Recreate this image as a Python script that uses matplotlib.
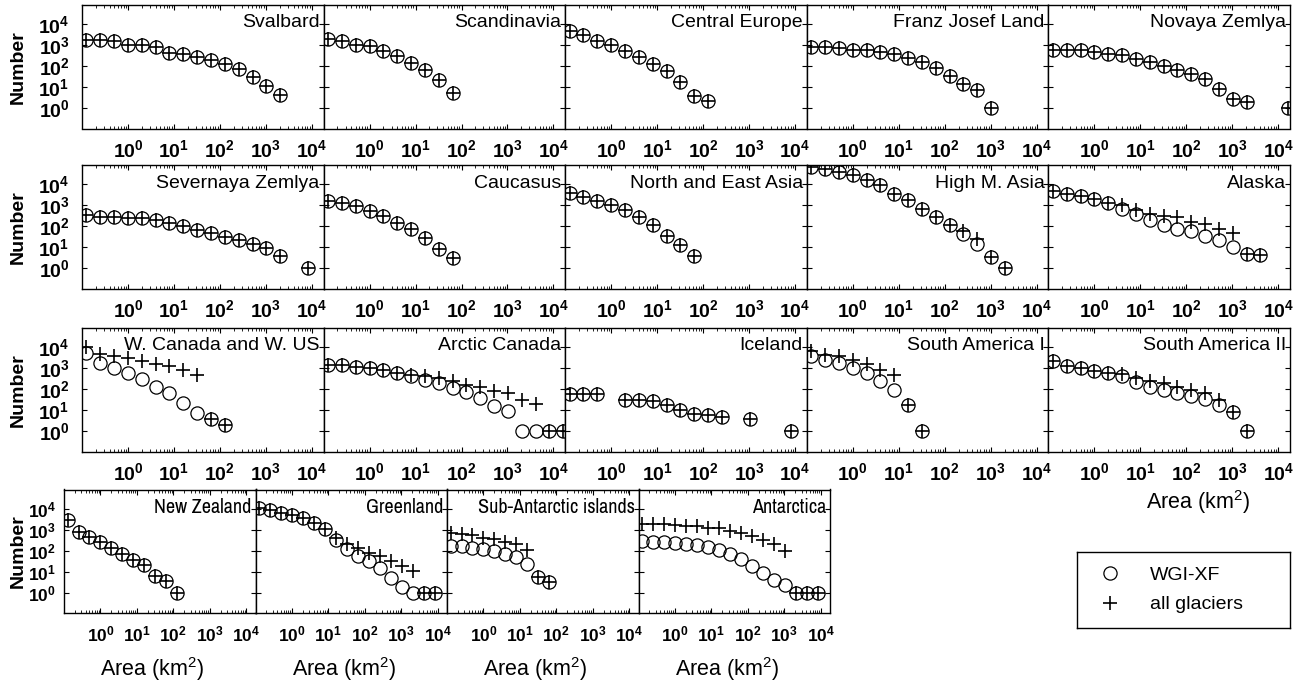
import numpy as np
import matplotlib
matplotlib.use('Agg')
import matplotlib.pyplot as plt
from matplotlib import font_manager
from matplotlib.lines import Line2D
from matplotlib.ticker import FuncFormatter, LogLocator, NullLocator, NullFormatter

installed = {f.name for f in font_manager.fontManager.ttflist}
if 'Archivo Narrow' in installed:
    narrow, narrow_size = 'Archivo Narrow', 14.5
else:
    narrow, narrow_size = 'Liberation Sans', 12.5

plt.rcParams['font.family'] = ['Liberation Sans', 'DejaVu Sans']
plt.rcParams['mathtext.fontset'] = 'custom'
plt.rcParams['mathtext.rm'] = 'Liberation Sans'
plt.rcParams['mathtext.bf'] = 'Liberation Sans:bold'
plt.rcParams['mathtext.default'] = 'regular'

# bins are powers of two of the area (km2): area = 2**bin
svalbard_bins = list(range(-3, 12))
svalbard_wgi = [1850, 1850, 1600, 1070, 1000, 830, 445, 400, 275, 205, 130, 76, 30, 11, 4]
svalbard_all = list(svalbard_wgi)

scand_bins = list(range(-3, 7))
scand_wgi = [2070, 1585, 1070, 890, 525, 305, 148, 63, 22, 5.2]
scand_all = list(scand_wgi)

ceu_bins = list(range(-3, 8))
ceu_wgi = [4800, 2980, 1700, 1000, 525, 272, 126, 56, 17.4, 3.6, 2.1]
ceu_all = list(ceu_wgi)

fjl_bins = list(range(-3, 11))
fjl_wgi = [820, 820, 770, 616, 570, 473, 398, 257, 158, 85, 36, 14.5, 7, 1]
fjl_all = list(fjl_wgi)

nz_bins = list(range(-3, 12)) + [14]
nz_wgi = [616, 616, 570, 473, 398, 330, 212, 158, 98, 63, 44, 25, 8.3, 2.8, 1.9, 1]
nz_all = list(nz_wgi)

sz_bins = list(range(-3, 12)) + [13]
sz_wgi = [330, 272, 272, 257, 257, 190, 141, 105, 63, 47, 32, 21, 14.5, 9.3, 3.7, 1]
sz_all = list(sz_wgi)

cau_bins = list(range(-3, 7))
cau_wgi = [1590, 1300, 900, 560, 300, 150, 70, 28, 8, 3]
cau_all = list(cau_wgi)

nea_bins = list(range(-3, 7))
nea_wgi = [3700, 2400, 1540, 1000, 570, 272, 118, 36, 12, 3.6]
nea_all = list(nea_wgi)

hma_bins = list(range(-3, 12))
hma_wgi = [67000, 56000, 39000, 27000, 15500, 9000, 3600, 1860, 690, 275, 110, 44, 14.5, 3.3, 1]
hma_all = [67000, 56000, 39000, 27000, 15500, 9000, 3600, 1860, 690, 275, 110, 60, 24, 3.3, 1]

alaska_bins = list(range(-3, 13))
alaska_wgi = [4800, 3600, 2670, 2070, 1270, 690, 398, 190, 110, 76, 59, 36, 21, 10, 4.5, 4]
alaska_all = [4800, 3600, 2670, 2070, 1350, 1000, 570, 367, 295, 290, 157, 132, 76, 47, 4.5, 4]

wcan_bins = list(range(-3, 8))
wcan_wgi = [5300, 1780, 1020, 590, 316, 135, 65, 21.5, 7.2, 3.9, 1.85]
wcan_all = [11000, 4800, 3700, 3100, 2140, 1590, 1230, 850, 490, 3.9, 1.85]

acan_bins = list(range(-3, 15))
acan_wgi = [1480, 1380, 1100, 1020, 794, 590, 410, 285, 196, 113, 70, 37, 15, 9.4, 1, 1, 1, 1]
acan_all = [1480, 1380, 1100, 1020, 794, 590, 480, 410, 340, 236, 164, 135, 78, 65, 31, 19.4, 1, 1]

ice_bins = [-3, -2, -1, 1, 2, 3, 4, 5, 6, 7, 8, 10, 13]
ice_wgi = [59, 59, 59, 31, 31, 26, 18, 10.4, 6.5, 6, 4.5, 3.9, 1]
ice_all = list(ice_wgi)

sa1_bins = list(range(-3, 6))
sa1_wgi = [3700, 2570, 1780, 1020, 590, 257, 95, 18, 1]
sa1_all = [6900, 4470, 3700, 2570, 1590, 850, 490, 18, 1]

sa2_bins = list(range(-3, 12))
sa2_wgi = [2300, 1330, 1020, 775, 590, 410, 220, 135, 95, 65, 46, 34, 18, 8, 1]
sa2_all = [2300, 1330, 1020, 775, 590, 525, 340, 235, 196, 135, 95, 65, 31, 8, 1]

nzl_bins = list(range(-3, 8))
nzl_wgi = [2880, 815, 457, 272, 141, 72, 35, 20, 6.3, 3.6, 1]
nzl_all = list(nzl_wgi)

grl_bins = list(range(-3, 14))
grl_wgi = [10500, 8670, 6650, 5160, 3590, 2210, 1070, 330, 118, 56, 32.5, 14.5, 5.2, 1.85, 1, 1, 1]
grl_all = [10500, 8670, 6650, 5160, 3590, 2210, 1070, 400, 205, 142, 81, 56, 32.5, 18.7, 10.8, 1, 1]

sai_bins = list(range(-3, 7))
sai_wgi = [170, 170, 141, 118, 98, 73, 50, 23, 5.6, 3.3]
sai_all = [740, 660, 570, 427, 357, 274, 205, 110, 5.6, 3.3]

ant_bins = list(range(-3, 14))
ant_wgi = [295, 263, 263, 235, 213, 190, 152, 110, 70, 41, 19, 8.7, 4, 2.3, 1, 1, 1]
ant_all = [1900, 1900, 1900, 1750, 1600, 1550, 1250, 1200, 900, 700, 500, 330, 210, 100, 1, 1, 1]

region_names = ['Svalbard', 'Scandinavia', 'Central Europe', 'Franz Josef Land', 'Novaya Zemlya',
                'Severnaya Zemlya', 'Caucasus', 'North and East Asia', 'High M. Asia', 'Alaska',
                'W. Canada and W. US', 'Arctic Canada', 'Iceland', 'South America I', 'South America II',
                'New Zealand', 'Greenland', 'Sub-Antarctic islands', 'Antarctica']
region_data = [
    (svalbard_bins, svalbard_wgi, svalbard_all), (scand_bins, scand_wgi, scand_all),
    (ceu_bins, ceu_wgi, ceu_all), (fjl_bins, fjl_wgi, fjl_all), (nz_bins, nz_wgi, nz_all),
    (sz_bins, sz_wgi, sz_all), (cau_bins, cau_wgi, cau_all), (nea_bins, nea_wgi, nea_all),
    (hma_bins, hma_wgi, hma_all), (alaska_bins, alaska_wgi, alaska_all),
    (wcan_bins, wcan_wgi, wcan_all), (acan_bins, acan_wgi, acan_all), (ice_bins, ice_wgi, ice_all),
    (sa1_bins, sa1_wgi, sa1_all), (sa2_bins, sa2_wgi, sa2_all),
    (nzl_bins, nzl_wgi, nzl_all), (grl_bins, grl_wgi, grl_all), (sai_bins, sai_wgi, sai_all),
    (ant_bins, ant_wgi, ant_all),
]

x_ticks = [1, 10, 100, 1000, 10000]
y_ticks = [1, 10, 100, 1000, 10000]

W, H = 1307, 688
row_top = [5, 165, 328, 489.5]
panel_h = 123.5


def pow_label(v, pos):
    return r'$\mathbf{10^{%d}}$' % int(round(np.log10(v)))


def make_panel(left, top, width, name, data, first_col, xlabel, small):
    ax = fig.add_axes([left / W, 1 - (top + panel_h) / H, width / W, panel_h / H])
    bins, wgi, allg = data
    area = 2.0 ** np.array(bins)
    ax.loglog(area, wgi, 'o', mfc='none', mec='k', ms=9.5, mew=0.9)
    ax.loglog(area, allg, '+', color='k', ms=10, mew=1.2)
    ax.set_xlim(0.1, 1.8e4)
    ax.set_ylim(0.105, 8.5e4)

    ax.set_xticks(x_ticks)
    ax.set_yticks(y_ticks)
    ax.xaxis.set_major_formatter(FuncFormatter(pow_label))
    ax.yaxis.set_major_formatter(FuncFormatter(pow_label))
    ax.xaxis.set_minor_locator(LogLocator(base=10, subs=np.arange(2, 10), numticks=20))
    ax.xaxis.set_minor_formatter(NullFormatter())
    ax.yaxis.set_minor_locator(NullLocator())
    ax.tick_params(which='both', direction='in', top=True, right=True)
    ax.tick_params(which='major', length=3.5, width=0.8, labelsize=12.5 if small else 14)
    ax.tick_params(axis='x', which='major', pad=8)
    ax.tick_params(axis='y', which='major', pad=6 if small else 9)
    ax.tick_params(which='minor', length=2, width=0.6)
    for sp in ax.spines.values():
        sp.set_linewidth(1.0)

    if first_col:
        ax.set_ylabel('Number', fontsize=14, fontweight='bold')
        ax.yaxis.set_label_coords((27 - left) / width, 0.5)
    else:
        ax.tick_params(labelleft=False)
    if xlabel is not None:
        ax.set_xlabel(r'Area (km$^{2}$)', fontsize=15.5)
        ax.xaxis.set_label_coords(xlabel[0], xlabel[1])

    if small:
        ax.annotate(name, xy=(1, 1), xycoords='axes fraction', xytext=(-4, -18),
                    textcoords='offset pixels', ha='right', va='center',
                    fontsize=narrow_size, family=[narrow, 'Liberation Sans'])
    else:
        ax.annotate(name, xy=(1, 1), xycoords='axes fraction', xytext=(-4, -18),
                    textcoords='offset pixels', ha='right', va='center', fontsize=14)
    return ax


fig = plt.figure(figsize=(W / 100, H / 100), dpi=100)

for i in range(15):
    row = i // 5
    col = i % 5
    width = 241.6
    left = 82 + col * width
    lab = (0.62, -0.3) if (row == 2 and col == 4) else None
    make_panel(left, row_top[row], width, region_names[i], region_data[i],
               col == 0, lab, False)

for j in range(4):
    width = 191.5
    left = 64 + j * width
    make_panel(left, row_top[3], width, region_names[15 + j], region_data[15 + j],
               j == 0, (0.46, -0.34), True)

# legend box
leg_ax = fig.add_axes([1077 / W, 1 - 628 / H, 213 / W, 76 / H])
leg_ax.set_xticks([])
leg_ax.set_yticks([])
for sp in leg_ax.spines.values():
    sp.set_linewidth(1.0)
h1 = Line2D([], [], ls='none', marker='o', mfc='none', mec='k', ms=9.5, mew=0.9)
h2 = Line2D([], [], ls='none', marker='+', color='k', ms=10, mew=1.2)
leg_ax.legend([h1, h2], ['WGI-XF', 'all glaciers'], loc='center left', frameon=False,
              fontsize=14, handlelength=1.0, borderaxespad=0, borderpad=1.2,
              handletextpad=1.56, labelspacing=0.6)

fig.savefig('out.png', dpi=100)
